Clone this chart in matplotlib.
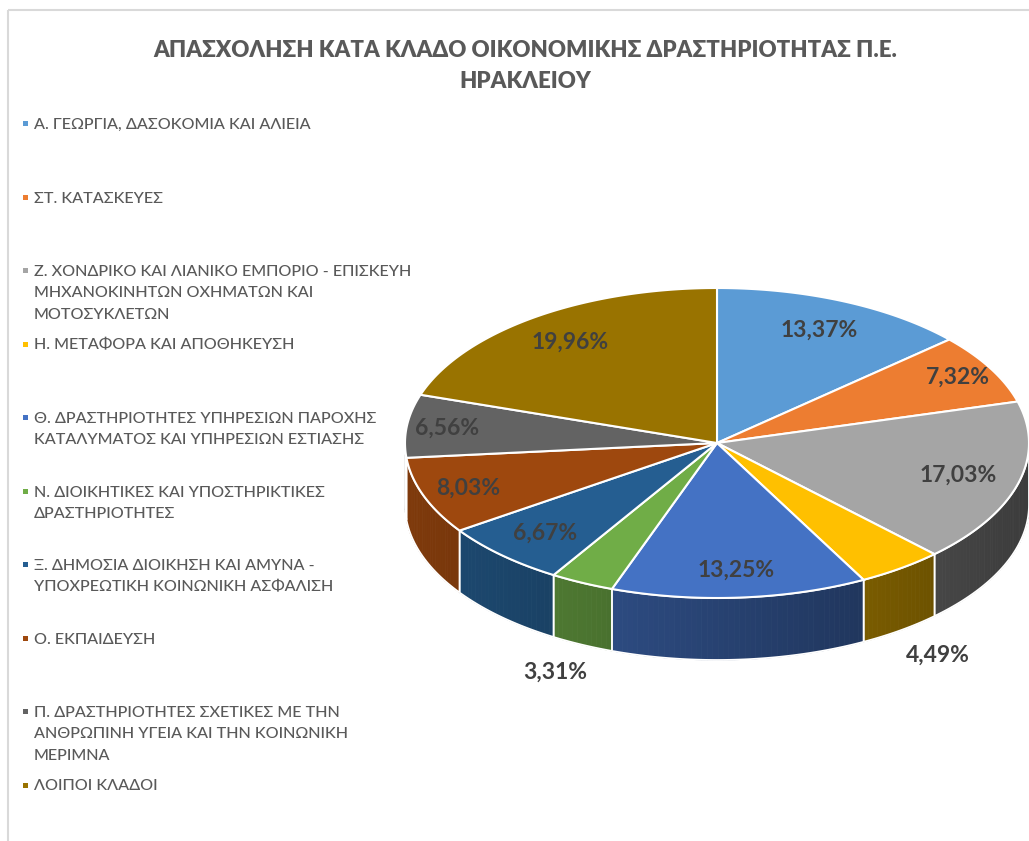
import numpy as np
import matplotlib.pyplot as plt
from matplotlib.patches import Polygon, Rectangle
from matplotlib.colors import to_rgb

plt.rcParams['font.family'] = ['Lato', 'Noto Sans', 'DejaVu Sans']

# data
categories = [
    'Α. ΓΕΩΡΓΙΑ, ΔΑΣΟΚΟΜΙΑ ΚΑΙ ΑΛΙΕΙΑ',
    'ΣΤ. ΚΑΤΑΣΚΕΥΕΣ',
    'Ζ. ΧΟΝΔΡΙΚΟ ΚΑΙ ΛΙΑΝΙΚΟ ΕΜΠΟΡΙΟ - ΕΠΙΣΚΕΥΗ\nΜΗΧΑΝΟΚΙΝΗΤΩΝ ΟΧΗΜΑΤΩΝ ΚΑΙ\nΜΟΤΟΣΥΚΛΕΤΩΝ',
    'Η. ΜΕΤΑΦΟΡΑ ΚΑΙ ΑΠΟΘΗΚΕΥΣΗ',
    'Θ. ΔΡΑΣΤΗΡΙΟΤΗΤΕΣ ΥΠΗΡΕΣΙΩΝ ΠΑΡΟΧΗΣ\nΚΑΤΑΛΥΜΑΤΟΣ ΚΑΙ ΥΠΗΡΕΣΙΩΝ ΕΣΤΙΑΣΗΣ',
    'Ν. ΔΙΟΙΚΗΤΙΚΕΣ ΚΑΙ ΥΠΟΣΤΗΡΙΚΤΙΚΕΣ\nΔΡΑΣΤΗΡΙΟΤΗΤΕΣ',
    'Ξ. ΔΗΜΟΣΙΑ ΔΙΟΙΚΗΣΗ ΚΑΙ ΑΜΥΝΑ -\nΥΠΟΧΡΕΩΤΙΚΗ ΚΟΙΝΩΝΙΚΗ ΑΣΦΑΛΙΣΗ',
    'Ο. ΕΚΠΑΙΔΕΥΣΗ',
    'Π. ΔΡΑΣΤΗΡΙΟΤΗΤΕΣ ΣΧΕΤΙΚΕΣ ΜΕ ΤΗΝ\nΑΝΘΡΩΠΙΝΗ ΥΓΕΙΑ ΚΑΙ ΤΗΝ ΚΟΙΝΩΝΙΚΗ\nΜΕΡΙΜΝΑ',
    'ΛΟΙΠΟΙ ΚΛΑΔΟΙ',
]
shares = [13.37, 7.32, 17.03, 4.49, 13.25, 3.31, 6.67, 8.03, 6.56, 19.96]
colors = ['#5B9BD5', '#ED7D31', '#A5A5A5', '#FFC000', '#4472C4',
          '#70AD47', '#255E91', '#9E480E', '#636363', '#997300']
title = 'ΑΠΑΣΧΟΛΗΣΗ ΚΑΤΑ ΚΛΑΔΟ ΟΙΚΟΝΟΜΙΚΗΣ ΔΡΑΣΤΗΡΙΟΤΗΤΑΣ Π.Ε.\nΗΡΑΚΛΕΙΟΥ'

# label distance from centre (fraction of radius)
label_r = [0.8, 0.88, 0.8, 1.2, 0.82, 1.2, 0.8, 0.85, 0.87, 0.8]

fig = plt.figure(figsize=(10.29, 8.41), dpi=100)
ax = fig.add_axes([0, 0, 1, 1])
ax.set_xlim(0, 1029)
ax.set_ylim(841, 0)
ax.axis('off')

ax.add_patch(Rectangle((8, 10), 1100, 900, fill=False, ec='#d9d9d9', lw=1.5))

cx, cy, rx, ry, depth = 717, 443, 312, 155, 62


def rim(phi, r=1.0):
    a = np.radians(phi)
    return cx + r * rx * np.sin(a), cy - r * ry * np.cos(a)


bounds = np.concatenate([[0], np.cumsum(shares)]) / sum(shares) * 360

# side walls (front half only)
for i in range(len(shares)):
    lo, hi = max(bounds[i], 90), min(bounds[i + 1], 270)
    if lo >= hi:
        continue
    base = np.array(to_rgb(colors[i]))
    phis = np.linspace(lo, hi, int(hi - lo) + 2)
    for p0, p1 in zip(phis[:-1], phis[1:]):
        x0, y0 = rim(p0)
        x1, y1 = rim(p1)
        f = 0.8 - 0.44 * ((x0 + x1) / 2 - (cx - rx)) / (2 * rx)
        c = tuple(base * f)
        ax.add_patch(Polygon([(x0, y0), (x1, y1), (x1, y1 + depth), (x0, y0 + depth)],
                             closed=True, fc=c, ec=c, lw=0.6))
    xs, ys = rim(phis)
    outline = list(zip(xs, ys)) + list(zip(xs[::-1], ys[::-1] + depth))
    ax.add_patch(Polygon(outline, closed=True, fill=False, ec='white', lw=1.3))

# top faces
for i in range(len(shares)):
    phis = np.linspace(bounds[i], bounds[i + 1], int(bounds[i + 1] - bounds[i]) + 2)
    xs, ys = rim(phis)
    pts = [(cx, cy)] + list(zip(xs, ys))
    ax.add_patch(Polygon(pts, closed=True, fc=colors[i], ec='white', lw=1.5))

# data labels
for i, v in enumerate(shares):
    mid = (bounds[i] + bounds[i + 1]) / 2
    x, y = rim(mid, label_r[i])
    if label_r[i] > 1:
        y += depth
    ax.text(x, y, f'{v:.2f}%'.replace('.', ','), ha='center', va='center',
            fontsize=16.5, fontweight='bold', color='#404040')

# title
ax.text(525, 66, title, ha='center', va='center', fontsize=16,
        fontweight='heavy', color='#595959', linespacing=1.6)

# legend
for i, name in enumerate(categories):
    y = 124 + i * 73.5
    ax.add_patch(Rectangle((23, y - 3), 5, 5, fc=colors[i], ec='none'))
    ax.text(34, y - 6, name, ha='left', va='top', fontsize=11.6,
            fontweight='medium', color='#595959', linespacing=1.68)

fig.savefig('out.png', dpi=100)
